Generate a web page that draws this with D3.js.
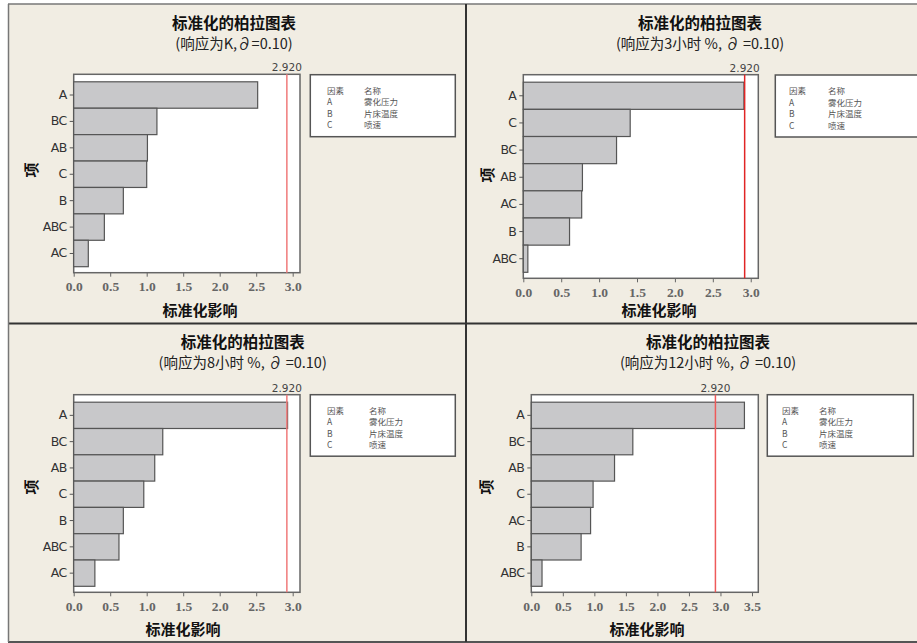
<!DOCTYPE html>
<html>
<head>
<meta charset="utf-8">
<script src="https://cdn.jsdelivr.net/npm/d3@7"></script>
<style>
  body { margin: 0; background: #fff; }
  svg { display: block; }
</style>
</head>
<body>
<div id="vis"></div>
<script>
// data
const terms1 = ['A', 'BC', 'AB', 'C', 'B', 'ABC', 'AC']
const effects1 = [2.52, 1.14, 1.01, 1.00, 0.68, 0.42, 0.20]
const terms2 = ['A', 'C', 'BC', 'AB', 'AC', 'B', 'ABC']
const effects2 = [2.91, 1.41, 1.23, 0.78, 0.77, 0.61, 0.06]
const terms3 = ['A', 'BC', 'AB', 'C', 'B', 'ABC', 'AC']
const effects3 = [2.93, 1.22, 1.11, 0.96, 0.68, 0.62, 0.29]
const terms4 = ['A', 'BC', 'AB', 'C', 'AC', 'B', 'ABC']
const effects4 = [3.38, 1.61, 1.32, 0.98, 0.94, 0.79, 0.17]

const subtitles = ['(响应为K,∂=0.10)', '(响应为3小时 %, ∂ =0.10)', '(响应为8小时 %, ∂ =0.10)', '(响应为12小时 %, ∂ =0.10)']
const critical = 2.920
const ticksShort = [0, 0.5, 1.0, 1.5, 2.0, 2.5, 3.0]
const ticksLong = [0, 0.5, 1.0, 1.5, 2.0, 2.5, 3.0, 3.5]
const legendHead = ['因素', '名称']
const factors = ['A', 'B', 'C']
const factorNames = ['雾化压力', '片床温度', '喷速']

const W = 917, H = 643

let svg = d3.select('#vis')
  .append('svg')
  .attr('width', W)
  .attr('height', H)

// beige backdrop + frame lines
svg.append('rect').attr('x', 8).attr('y', 4).attr('width', W - 8).attr('height', 638).attr('fill', '#f1ede3')
svg.append('line').attr('x1', 8).attr('x2', W).attr('y1', 4).attr('y2', 4).attr('stroke', '#777').attr('stroke-width', 1.5)
svg.append('line').attr('x1', 8).attr('x2', W).attr('y1', 323.5).attr('y2', 323.5).attr('stroke', '#333').attr('stroke-width', 2)
svg.append('line').attr('x1', 8).attr('x2', W).attr('y1', 642).attr('y2', 642).attr('stroke', '#555').attr('stroke-width', 2)
svg.append('line').attr('x1', 8.5).attr('x2', 8.5).attr('y1', 4).attr('y2', 642).attr('stroke', '#777').attr('stroke-width', 1.5)
svg.append('line').attr('x1', 466).attr('x2', 466).attr('y1', 4).attr('y2', 642).attr('stroke', '#333').attr('stroke-width', 2)

let panels = [
  { terms: terms1, effects: effects1, sub: subtitles[0], ticks: ticksShort, xmax: 3.1,
    left: 73.7, right: 300, top: 74.3, bottom: 272.7, cx: 234, ty: 29, xlabX: 200, xlabY: 316, ylabX: 32, ylabY: 170,
    lg: { x: 310.3, y: 74.7, w: 145, h: 62, c1: 327, c2: 364 }, red: '#f07a7a' },
  { terms: terms2, effects: effects2, sub: subtitles[1], ticks: ticksShort, xmax: 3.1,
    left: 523.3, right: 758.3, top: 74.7, bottom: 278.3, cx: 700, ty: 29, xlabX: 659, xlabY: 316, ylabX: 488, ylabY: 175,
    lg: { x: 775.3, y: 75, w: 150, h: 62, c1: 789, c2: 828 }, red: '#e02525' },
  { terms: terms3, effects: effects3, sub: subtitles[2], ticks: ticksShort, xmax: 3.1,
    left: 73.7, right: 300, top: 394.7, bottom: 592.3, cx: 242.7, ty: 348, xlabX: 183, xlabY: 635, ylabX: 32, ylabY: 487,
    lg: { x: 310.3, y: 394.7, w: 145, h: 61.5, c1: 327, c2: 369 }, red: '#f07a7a' },
  { terms: terms4, effects: effects4, sub: subtitles[3], ticks: ticksLong, xmax: 3.6,
    left: 531.3, right: 758.3, top: 394.7, bottom: 592.3, cx: 708, ty: 348, xlabX: 647, xlabY: 635, ylabX: 487, ylabY: 487,
    lg: { x: 767.3, y: 394.7, w: 146, h: 61.5, c1: 782, c2: 819 }, red: '#ee5a5a' }
]

const cjk = "'Noto Sans CJK SC', sans-serif"

panels.forEach(function (p) {
  let g = svg.append('g')

  // titles
  g.append('text').attr('x', p.cx).attr('y', p.ty)
    .attr('text-anchor', 'middle').style('font-family', cjk).style('font-weight', 'bold')
    .style('font-size', '15.5px').attr('fill', '#111').text('标准化的柏拉图表')
  g.append('text').attr('x', p.cx).attr('y', p.ty + 20)
    .attr('text-anchor', 'middle').style('font-family', cjk)
    .style('font-size', '14.5px').attr('fill', '#222').text(p.sub)

  let x = d3.scaleLinear().domain([0, p.xmax]).range([p.left, p.right])
  let y = d3.scaleBand().domain(p.terms).range([p.top + 7.5, p.bottom - 6]).padding(0)

  // plot area
  g.append('rect').attr('x', p.left).attr('y', p.top)
    .attr('width', p.right - p.left).attr('height', p.bottom - p.top)
    .attr('fill', '#fff').attr('stroke', '#666').attr('stroke-width', 1.5)

  // bars
  g.selectAll('.bar').data(p.terms).enter().append('rect')
    .attr('x', x(0))
    .attr('y', d => y(d))
    .attr('width', (d, i) => x(p.effects[i]) - x(0))
    .attr('height', y.bandwidth())
    .attr('fill', '#c8c8ca').attr('stroke', '#555').attr('stroke-width', 1.2)

  // critical line
  g.append('line').attr('x1', x(critical)).attr('x2', x(critical))
    .attr('y1', p.top).attr('y2', p.bottom)
    .attr('stroke', p.red).attr('stroke-width', 1.5)
  g.append('text').attr('x', x(critical)).attr('y', p.top - 3)
    .attr('text-anchor', 'middle').style('font-family', "'DejaVu Sans', sans-serif")
    .style('font-size', '10.5px').attr('fill', '#444').text(critical.toFixed(3))

  // x axis
  let xAxis = d3.axisBottom(x).tickValues(p.ticks).tickFormat(d3.format('.1f')).tickSize(4).tickSizeOuter(0)
  let xg = g.append('g').attr('transform', 'translate(0,' + p.bottom + ')').call(xAxis)
  xg.select('.domain').remove()
  xg.selectAll('line').attr('stroke', '#666')
  xg.selectAll('text').attr('dy', '0.85em')
    .style('font-family', "'Liberation Serif', serif").style('font-weight', 'bold')
    .style('font-size', '13.5px').attr('fill', '#666')

  // y axis
  let yAxis = d3.axisLeft(y).tickSize(4).tickSizeOuter(0)
  let yg = g.append('g').attr('transform', 'translate(' + p.left + ',0)').call(yAxis)
  yg.select('.domain').remove()
  yg.selectAll('line').attr('stroke', '#555')
  yg.selectAll('text').style('font-family', "'DejaVu Sans', sans-serif")
    .style('font-size', '12.5px').attr('fill', '#333').attr('letter-spacing', '-0.6px')

  // axis titles
  g.append('text').attr('x', p.xlabX).attr('y', p.xlabY)
    .attr('text-anchor', 'middle').style('font-family', cjk).style('font-weight', 'bold')
    .style('font-size', '15px').attr('fill', '#111').text('标准化影响')
  g.append('text').attr('transform', 'translate(' + p.ylabX + ',' + p.ylabY + ') rotate(-90)')
    .attr('text-anchor', 'middle').attr('dy', '0.35em').style('font-family', cjk).style('font-weight', 'bold')
    .style('font-size', '15px').attr('fill', '#111').text('项')

  // legend box
  let lg = p.lg
  g.append('rect').attr('x', lg.x).attr('y', lg.y).attr('width', lg.w).attr('height', lg.h)
    .attr('fill', '#fff').attr('stroke', '#555').attr('stroke-width', 1.5)
  let rows = [legendHead].concat(factors.map((f, i) => [f, factorNames[i]]))
  rows.forEach(function (r, i) {
    let yy = lg.y + 19 + i * 11.5
    g.append('text').attr('x', lg.c1).attr('y', yy)
      .style('font-family', cjk).style('font-size', '8.5px').attr('fill', '#555').text(r[0])
    g.append('text').attr('x', lg.c2).attr('y', yy)
      .style('font-family', cjk).style('font-size', '8.5px').attr('fill', '#555').text(r[1])
  })
})
</script>
</body>
</html>
